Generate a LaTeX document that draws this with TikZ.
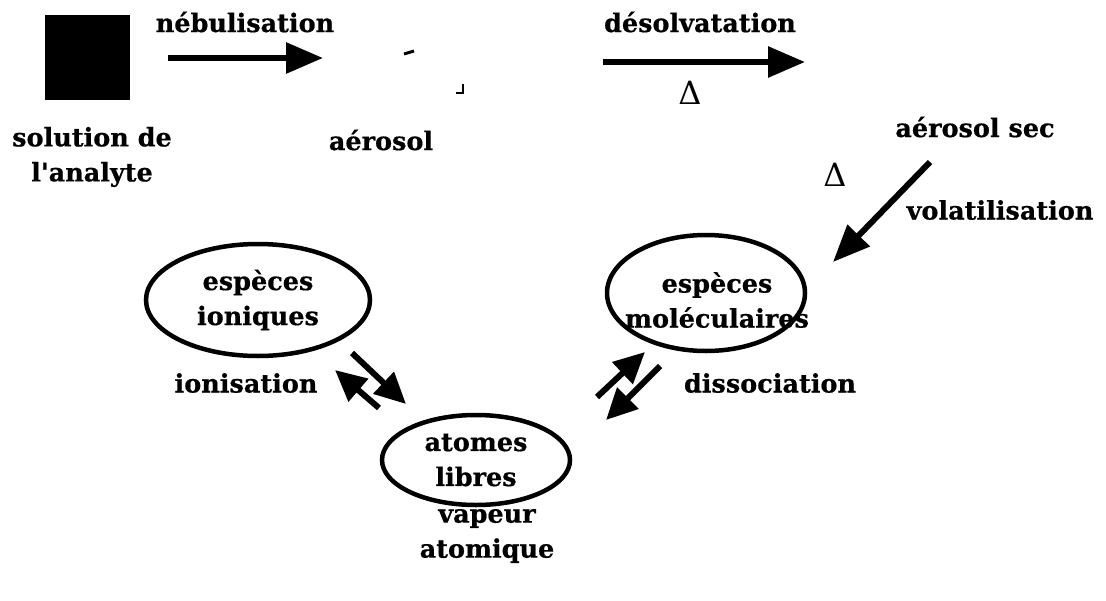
\documentclass[tikz,border=0pt]{standalone}
\usepackage{fontspec}
\setmainfont[Ligatures=TeXOff,BoldFeatures={FakeBold=0.6}]{DejaVu Serif}
\usetikzlibrary{arrows.meta,shapes.geometric}
\begin{document}
\begin{tikzpicture}[x=1pt,y=-1pt,
  lbl/.style={font=\fontsize{25.5}{35}\selectfont\bfseries, inner sep=0pt, align=center},
  arr/.style={line width=6pt, -{Triangle[length=37pt,width=30pt]}},
  eqarr/.style={line width=6pt, -{Triangle[length=31pt,width=29pt]}},
  ell/.style={draw, ellipse, line width=4.5pt, inner sep=0pt, align=center,
    font=\fontsize{25.5}{35}\selectfont\bfseries}]
\useasboundingbox (0,0) rectangle (1106,600);

% top row
\node[fill=black, minimum size=85pt, inner sep=0pt] (sq) at (87.5,57.5) {};
\node[lbl] (sol) at (92,157) {solution de\\l'analyte};
\node[lbl] (neb) at (245,22) {nébulisation};
\coordinate (n1) at (168,58);
\coordinate (n2) at (323,58);
\draw[arr] (n1) -- (n2);

\node[lbl] (aer) at (381,140) {aérosol};
\draw[line width=3pt] (404,54) -- (414,51);
\draw[line width=2pt] (463,84) -- (463,93) -- (456,93);

\node[lbl] (des) at (700,22) {désolvatation};
\coordinate (d1) at (603,62);
\coordinate (d2) at (805,62);
\draw[arr] (d1) -- (d2);
\node[lbl, font=\fontsize{32}{32}\selectfont] (delta1) at (690,93) {Δ};

\node[lbl] (aersec) at (975,127) {aérosol sec};
\node[lbl, font=\fontsize{32}{32}\selectfont] (delta2) at (835,175) {Δ};
\node[lbl] (vol) at (1000,210) {volatilisation};
\coordinate (v1) at (930,162);
\coordinate (v2) at (833,262);
\draw[arr] (v1) -- (v2);

% ellipses
\node[ell, minimum width=224pt, minimum height=112pt] (ion) at (258,300) {espèces\\ioniques};
\node[ell, minimum width=198pt, minimum height=116pt] (mol) at (706,293) {};
\node[lbl] (moltxt) at (717,300) {espèces\\moléculaires};
\node[ell, minimum width=188pt, minimum height=90pt] (atm) at (476,460) {atomes\\libres};

\node[lbl] (ionis) at (246,383) {ionisation};
\node[lbl] (dissoc) at (770,383) {dissociation};
\node[lbl] (vap) at (487,536) {vapeur\\atomique};

% equilibrium arrows
\coordinate (a1) at (352,353);
\coordinate (a2) at (406,404);
\coordinate (b1) at (379,408);
\coordinate (b2) at (335,370);
\draw[eqarr] (a1) -- (a2);
\draw[eqarr] (b1) -- (b2);
\coordinate (c1) at (597,397);
\coordinate (c2) at (645,352);
\coordinate (e1) at (660,366);
\coordinate (e2) at (606,420);
\draw[eqarr] (c1) -- (c2);
\draw[eqarr] (e1) -- (e2);
\end{tikzpicture}
\end{document}
